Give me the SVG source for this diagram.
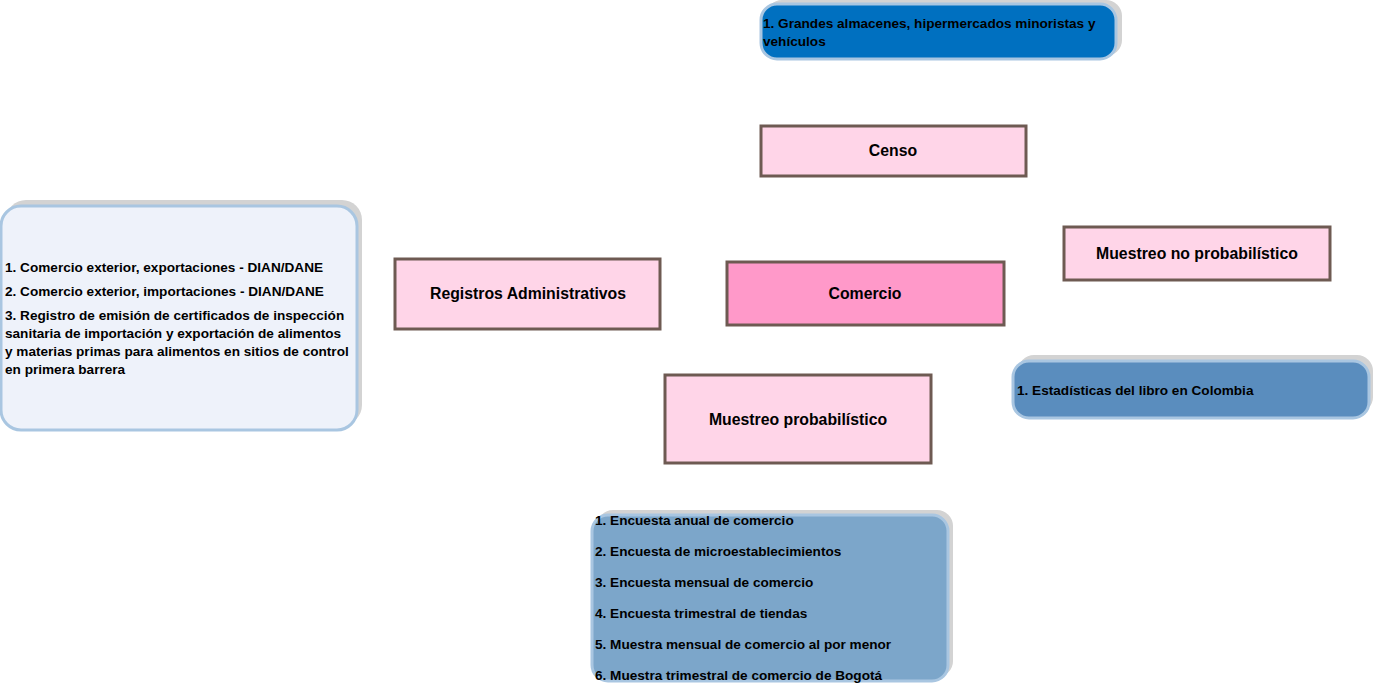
<svg xmlns="http://www.w3.org/2000/svg" width="1373" height="687" viewBox="0 0 1373 687">
<style>
text{font-family:"Liberation Sans",Arial,sans-serif;font-weight:bold;fill:#000}
.lbl{font-size:15.8px;text-anchor:middle}
.lst{font-size:13.6px}
.pink{fill:#FFD5E8;stroke:#6E5A52;stroke-width:3}
.shadow{fill:#D3D3D3}
.rb{stroke:#A9C6E1;stroke-width:3}
</style>
<rect width="1373" height="687" fill="#fff"/>
<g id="connectors"></g>
<g id="grandes">
<rect class="shadow" x="766" y="0" width="356" height="56" rx="16"/>
<rect class="rb" x="761" y="4" width="355" height="55" rx="16" fill="#0070C0"/>
<text class="lst" x="763" y="28">1. Grandes almacenes, hipermercados minoristas y</text>
<text class="lst" x="763" y="46">vehículos</text>
</g>
<g id="censo">
<rect class="pink" x="761" y="126" width="265" height="50"/>
<text class="lbl" x="893" y="156">Censo</text>
</g>
<g id="comercio-exterior">
<rect class="shadow" x="6" y="200" width="356" height="225" rx="20"/>
<rect class="rb" x="1" y="206" width="356" height="224" rx="20" fill="#EEF2FA"/>
<text class="lst" x="5" y="272">1. Comercio exterior, exportaciones - DIAN/DANE</text>
<text class="lst" x="5" y="296">2. Comercio exterior, importaciones - DIAN/DANE</text>
<text class="lst" x="5" y="320">3. Registro de emisión de certificados de inspección</text>
<text class="lst" x="5" y="338">sanitaria de importación y exportación de alimentos</text>
<text class="lst" x="5" y="356">y materias primas para alimentos en sitios de control</text>
<text class="lst" x="5" y="374">en primera barrera</text>
</g>
<g id="registros">
<rect class="pink" x="395" y="259" width="265" height="70"/>
<text class="lbl" x="528" y="299">Registros Administrativos</text>
</g>
<g id="comercio">
<rect class="pink" x="727" y="262" width="277" height="63" style="fill:#FF99C9"/>
<text class="lbl" x="865" y="299">Comercio</text>
</g>
<g id="muestreo-no">
<rect class="pink" x="1064" y="227" width="266" height="53"/>
<text class="lbl" x="1197" y="259">Muestreo no probabilístico</text>
</g>
<g id="libro">
<rect class="shadow" x="1018" y="355" width="355" height="58" rx="16"/>
<rect class="rb" x="1013" y="361" width="356" height="57" rx="16" fill="#5A8DBE"/>
<text class="lst" x="1017" y="395">1. Estadísticas del libro en Colombia</text>
</g>
<g id="muestreo">
<rect class="pink" x="665" y="375" width="266" height="88"/>
<text class="lbl" x="798" y="425">Muestreo probabilístico</text>
</g>
<g id="encuestas">
<rect class="shadow" x="597" y="510" width="356" height="167" rx="16"/>
<rect class="rb" x="592" y="515" width="356" height="166" rx="16" fill="#7CA6CA"/>
<text class="lst" x="595" y="525">1. Encuesta anual de comercio</text>
<text class="lst" x="595" y="556">2. Encuesta de microestablecimientos</text>
<text class="lst" x="595" y="587">3. Encuesta mensual de comercio</text>
<text class="lst" x="595" y="618">4. Encuesta trimestral de tiendas</text>
<text class="lst" x="595" y="649">5. Muestra mensual de comercio al por menor</text>
<text class="lst" x="595" y="680">6. Muestra trimestral de comercio de Bogotá</text>
</g>
</svg>
